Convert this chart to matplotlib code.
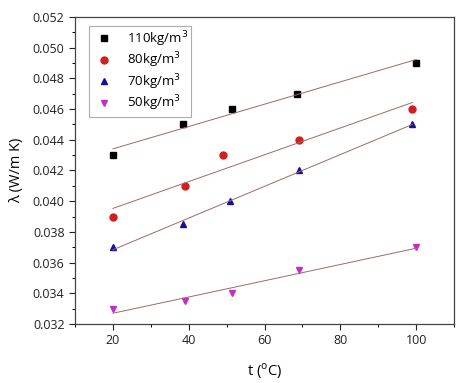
import numpy as np
import matplotlib
matplotlib.use("Agg")
from matplotlib import pyplot as plt
from matplotlib.ticker import MultipleLocator

plt.rcParams["font.family"] = ["Open Sans", "DejaVu Sans"]

# data
t_110 = [20, 38.5, 51.5, 68.5, 100]
k_110 = [0.043, 0.045, 0.046, 0.047, 0.049]
t_80 = [20, 39, 49, 69, 99]
k_80 = [0.039, 0.041, 0.043, 0.044, 0.046]
t_70 = [20, 38.5, 51, 69, 99]
k_70 = [0.037, 0.0385, 0.040, 0.042, 0.045]
t_50 = [20, 39, 51.5, 69, 100]
k_50 = [0.033, 0.0335, 0.034, 0.0355, 0.037]

series = [
    (t_110, k_110, "s", "black", "110kg/m$^3$"),
    (t_80, k_80, "o", "#d01f1f", "80kg/m$^3$"),
    (t_70, k_70, "^", "#12129a", "70kg/m$^3$"),
    (t_50, k_50, "v", "#c42ec8", "50kg/m$^3$"),
]

fig = plt.figure(figsize=(4.69, 3.83), dpi=100)
ax = fig.add_axes([0.160, 0.154, 0.808, 0.802])

for t, k, m, c, lab in series:
    ax.plot(t, k, m, color=c, markersize=5, linestyle="none", label=lab)
    # linear fit line
    p = np.polyfit(t, k, 1)
    xs = np.array([t[0], t[-1]])
    ax.plot(xs, np.polyval(p, xs), color="#a06868", linewidth=0.7)

ax.set_xlim(10, 110)
ax.set_ylim(0.032, 0.052)
ax.set_xticks([20, 40, 60, 80, 100])
ax.xaxis.set_minor_locator(MultipleLocator(10))
ax.set_yticks(np.arange(0.032, 0.0521, 0.002))
ax.yaxis.set_minor_locator(MultipleLocator(0.001))
ax.set_yticklabels([f"{v:.3f}" for v in np.arange(0.032, 0.0521, 0.002)])
ax.tick_params(axis="both", which="major", direction="out", length=4, width=0.8,
               labelsize=9, colors="#222222", top=False, right=False)
ax.tick_params(axis="both", which="minor", direction="out", length=2.5, width=0.7,
               top=False, right=False)
for s in ax.spines.values():
    s.set_color("#444444")
    s.set_linewidth(0.9)

ax.set_xlabel("t ($^{\\mathregular{o}}$C)", fontsize=10.5, labelpad=10)
ax.set_ylabel("λ (W/m K)", fontsize=10.5, labelpad=6)

leg = ax.legend(loc="upper left", bbox_to_anchor=(0.03, 0.98), fontsize=9.5,
                frameon=True, fancybox=False, edgecolor="#999999",
                handletextpad=0.8, borderpad=0.25, labelspacing=0.15,
                handlelength=1.8, borderaxespad=0.2)
leg.get_frame().set_linewidth(0.8)

fig.savefig("out.png", dpi=100)
